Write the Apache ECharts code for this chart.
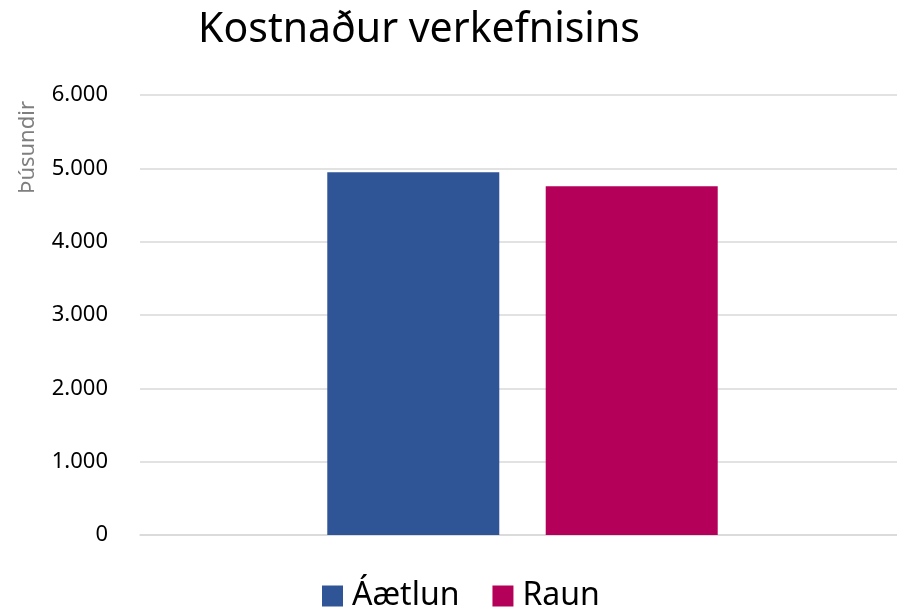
<!DOCTYPE html>
<html>
<head>
    <meta charset="utf-8" />
    <title>Kostnaður verkefnisins</title>
    <script src="https://cdn.jsdelivr.net/npm/echarts@6/dist/echarts.min.js"></script>
</head>
<body style="margin:0;">
    <div id="main" style="width:897px;height:609px;"></div>
    <script type="text/javascript">
        // gögn
        var categories = [''];
        var seriesNames = ['Áætlun', 'Raun'];
        var aaetlun = [4945];
        var raun = [4755];
        var colors = ['#2F5597', '#B5005A'];

        var font = 'Noto Sans';

        var myChart = echarts.init(document.getElementById('main'));
        myChart.setOption({
            animation: false,
            title: {
                text: 'Kostnaður verkefnisins',
                left: 414,
                textAlign: 'center',
                top: 5,
                textStyle: { fontFamily: font, fontSize: 41, fontWeight: 'normal', color: '#000' }
            },
            graphic: [{
                // ásheiti, lesið upp á við
                type: 'text',
                left: 17,
                top: 101,
                rotation: Math.PI / 2,
                style: {
                    text: 'Þúsundir',
                    fontSize: 22,
                    fontFamily: font,
                    fill: '#7f7f7f'
                }
            }],
            legend: {
                data: seriesNames,
                bottom: -8,
                left: 317,
                itemWidth: 21,
                itemHeight: 21,
                itemGap: 33,
                icon: 'rect',
                textStyle: { fontFamily: font, fontSize: 32, color: '#000', padding: [0, 0, 0, 4] }
            },
            grid: { left: 140, right: -8, top: 95, bottom: 74, outerBoundsMode: 'none' },
            xAxis: {
                type: 'category',
                data: categories,
                axisTick: { show: false },
                axisLabel: { show: false },
                axisLine: { lineStyle: { color: '#d9d9d9', width: 1.5 } }
            },
            yAxis: {
                type: 'value',
                min: 0,
                max: 6000,
                interval: 1000,
                axisLabel: {
                    fontFamily: font, fontSize: 22, color: '#000', margin: 32,
                    formatter: function (v) { return v === 0 ? '0' : v.toLocaleString('de-DE'); }
                },
                splitLine: { lineStyle: { color: '#d9d9d9', width: 1.5 } }
            },
            series: [{
                name: seriesNames[0],
                type: 'bar',
                data: aaetlun,
                barWidth: 172,
                barGap: '27%',
                itemStyle: { color: colors[0] }
            }, {
                name: seriesNames[1],
                type: 'bar',
                data: raun,
                barWidth: 172,
                itemStyle: { color: colors[1] }
            }]
        });
    </script>
</body>
</html>
